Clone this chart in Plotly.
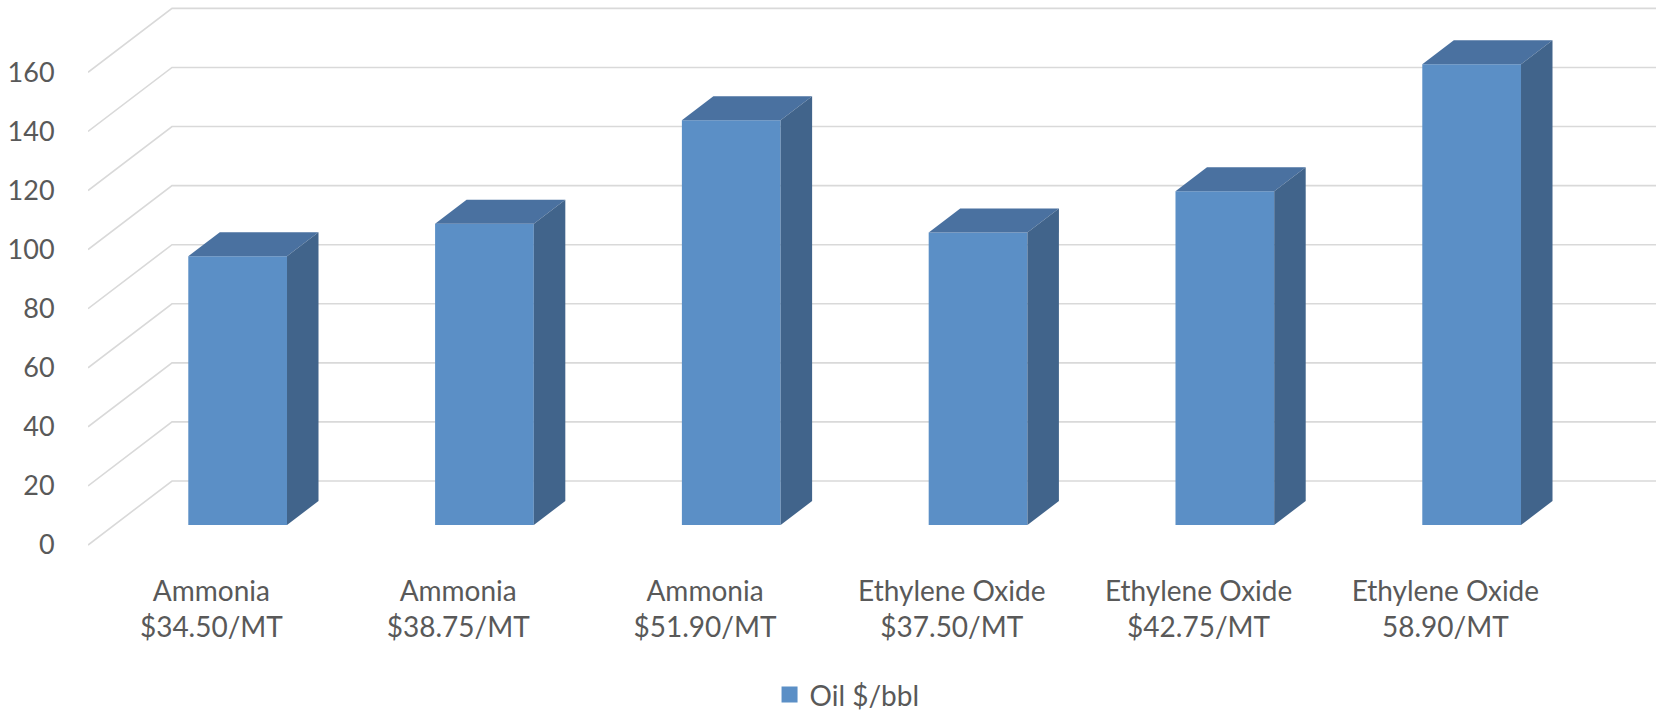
import plotly.graph_objects as go

# ---- data ----
categories = [
    "Ammonia<br>$34.50/MT",
    "Ammonia<br>$38.75/MT",
    "Ammonia<br>$51.90/MT",
    "Ethylene Oxide<br>$37.50/MT",
    "Ethylene Oxide<br>$42.75/MT",
    "Ethylene Oxide<br>58.90/MT",
]
oil_values = [91, 102, 137, 99, 113, 156]
y_ticks = [0, 20, 40, 60, 80, 100, 120, 140, 160]
series_name = "Oil $/bbl"

# ---- oblique 3D geometry (in axis units) ----
W, H = 1656, 712
L_M, R_M, T_M, B_M = 88, 0, 0, 150
PX_X = 246.8          # pixels per category
PX_Y = 2.954          # pixels per value unit
DX = 84 / PX_X        # floor depth, x component
DY = 64 / PX_Y        # floor depth, y component
F0, F1 = 0.3125, 0.6875   # bar front/back depth fractions
HW = 0.2              # bar half width
X0 = -0.5
X1 = X0 + (W - L_M - R_M) / PX_X
Y1 = (545 - T_M) / PX_Y
Y0 = -((H - B_M) - 545) / PX_Y

FRONT = "#5b8fc6"
TOP = "#4a71a0"
SIDE = "#41648b"
GRID = "#d9d9d9"
TXT = "#595959"
FONT = "Lato"

xs = list(range(len(categories)))
fig = go.Figure()

# back-wall gridlines with diagonal floor-to-wall segment
shapes = []
for v in y_ticks:
    path = (f"M {X0},{v} L {X0 + DX},{v + DY} L {X1 + 1},{v + DY}")
    shapes.append(dict(type="path", path=path, xref="x", yref="y",
                       line=dict(color=GRID, width=1.6), layer="below"))

# front faces as real bars
fig.add_trace(go.Bar(
    x=[i + F0 * DX for i in xs], y=oil_values, base=[F0 * DY] * len(xs),
    width=2 * HW, marker=dict(color=FRONT, line=dict(width=0)),
    showlegend=False, hoverinfo="skip"))

# top and side faces
for i, v in zip(xs, oil_values):
    xl0, xr0 = i + F0 * DX - HW, i + F0 * DX + HW
    xl1, xr1 = i + F1 * DX - HW, i + F1 * DX + HW
    yb0, yb1 = F0 * DY, F1 * DY
    fig.add_trace(go.Scatter(
        x=[xl0, xr0, xr1, xl1, xl0], y=[yb0 + v, yb0 + v, yb1 + v, yb1 + v, yb0 + v],
        fill="toself", fillcolor=TOP, mode="lines", line=dict(width=0, color=TOP),
        showlegend=False, hoverinfo="skip"))
    fig.add_trace(go.Scatter(
        x=[xr0, xr0, xr1, xr1, xr0], y=[yb0, yb0 + v, yb1 + v, yb1, yb0],
        fill="toself", fillcolor=SIDE, mode="lines", line=dict(width=0, color=SIDE),
        showlegend=False, hoverinfo="skip"))

# legend entry
fig.add_trace(go.Scatter(
    x=[None], y=[None], mode="markers", name=series_name,
    marker=dict(symbol="square", size=18, color=FRONT)))

fig.update_layout(
    width=W, height=H,
    margin=dict(l=L_M, r=R_M, t=T_M, b=B_M),
    paper_bgcolor="white", plot_bgcolor="white",
    font=dict(family=FONT, size=27, color=TXT),
    shapes=shapes,
    showlegend=True,
    legend=dict(orientation="h", xref="container", yref="container",
                x=0.5115, xanchor="center", y=0.024, yanchor="middle",
                font=dict(size=28, color=TXT), itemsizing="trace"),
    xaxis=dict(range=[X0, X1], tickvals=xs, ticktext=categories,
               showgrid=False, zeroline=False, showline=False,
               ticks="outside", ticklen=4, tickcolor="rgba(0,0,0,0)",
               tickfont=dict(size=28, color=TXT), fixedrange=True),
    yaxis=dict(range=[Y0, Y1], tickvals=y_ticks,
               showgrid=False, zeroline=False, showline=False,
               ticks="outside", ticklen=27, tickcolor="rgba(0,0,0,0)",
               tickfont=dict(size=27, color=TXT), fixedrange=True),
)

fig.write_html("out.html")
